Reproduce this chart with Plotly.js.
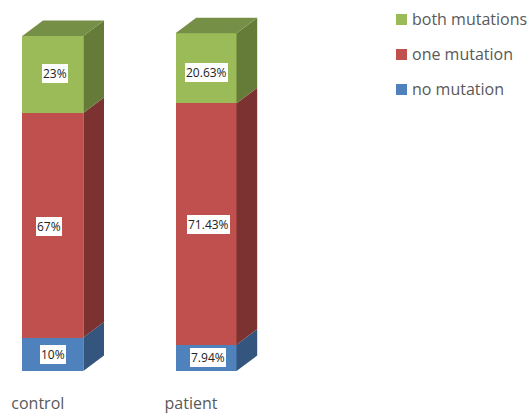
<!DOCTYPE html>
<html>
<head>
<meta charset="utf-8">
<script src="https://cdn.plot.ly/plotly-3.0.1.min.js"></script>
<style>html,body{margin:0;padding:0;background:#fff}</style>
</head>
<body>
<div id="chart" style="width:530px;height:414px"></div>
<script>
const categories = ['control', 'patient'];
const seriesNames = ['no mutation', 'one mutation', 'both mutations'];
// Segment heights as drawn in the picture (percent scale)
const noMutation = [10, 7.85];
const oneMutation = [67, 72.05];
const bothMutations = [23, 20.9];
// Data labels as printed on the bars
const noMutationLabels = ['10%', '7.94%'];
const oneMutationLabels = ['67%', '71.43%'];
const bothMutationsLabels = ['23%', '20.63%'];

const frontColors = ['#4F81BD', '#C0504D', '#9BBB59'];
const sideColors = ['#34557E', '#7B3230', '#657C39'];
const topColor = '#768F46';
const textColor = '#595959';
const font = '"Open Sans", sans-serif';

const W = 530, H = 414, marginB = 22;
const pxPerCat = 153.2, pxPerPct = 3.35;
const firstBarPx = 52.8, basePx = 371;
const barW = 61 / pxPerCat;
const depthX = 20.7 / pxPerCat, depthY = 15.5 / pxPerPct;
const tickShift = -15 / pxPerCat;
// Label nudges off the segment centres, in pixels: [series][category]
const labelDx = [[0, 1.7], [-3.8, 2], [2.2, 0]];
const labelDy = [[-0.5, 0], [-1.5, -0.5], [1, -4]];

const xs = categories.map((_, i) => i);
const allValues = [noMutation, oneMutation, bothMutations];
const allLabels = [noMutationLabels, oneMutationLabels, bothMutationsLabels];

const traces = [];
const annotations = [];
const bases = xs.map(() => 0);

allValues.forEach((vals, s) => {
  const starts = bases.slice();
  traces.push({
    type: 'bar', x: xs, y: vals, width: barW, name: seriesNames[s],
    marker: {color: frontColors[s], line: {width: 0}},
    hoverinfo: 'name+y', showlegend: false
  });
  xs.forEach((x, i) => {
    const y0 = starts[i], y1 = y0 + vals[i], r = x + barW / 2;
    traces.push({
      type: 'scatter', mode: 'lines', fill: 'toself', fillcolor: sideColors[s],
      x: [r, r + depthX, r + depthX, r, r],
      y: [y0, y0 + depthY, y1 + depthY, y1, y0],
      line: {width: 0, color: sideColors[s]}, hoverinfo: 'skip', showlegend: false
    });
    annotations.push({
      x: x, y: (y0 + y1) / 2, xref: 'x', yref: 'y', showarrow: false,
      xshift: labelDx[s][i], yshift: labelDy[s][i],
      text: allLabels[s][i], bgcolor: '#fff', borderpad: 1, borderwidth: 0,
      font: {family: font, size: 12, color: '#222'}
    });
    bases[i] = y1;
    if (s === allValues.length - 1) {
      const l = x - barW / 2;
      traces.push({
        type: 'scatter', mode: 'lines', fill: 'toself', fillcolor: topColor,
        x: [l, l + depthX, r + depthX, r, l],
        y: [y1, y1 + depthY, y1 + depthY, y1, y1],
        line: {width: 0, color: topColor}, hoverinfo: 'skip', showlegend: false
      });
    }
  });
});

// Key, top to bottom
const legendRows = [
  {s: 2, y: 19.5}, {s: 1, y: 54.5}, {s: 0, y: 89.5}
];
const shapes = legendRows.map(r => ({
  type: 'rect', xref: 'paper', yref: 'paper', line: {width: 0},
  x0: 396 / W, x1: 407 / W,
  y0: 1 - (r.y + 5.5) / (H - marginB), y1: 1 - (r.y - 5.5) / (H - marginB),
  fillcolor: frontColors[r.s]
}));
legendRows.forEach(r => annotations.push({
  xref: 'paper', yref: 'paper', x: 409.5 / W, y: 1 - (r.y - 0.5) / (H - marginB),
  xanchor: 'left', yanchor: 'middle', showarrow: false, text: seriesNames[r.s],
  font: {family: font, size: 16, color: textColor}
}));

const layout = {
  width: W, height: H,
  margin: {l: 0, r: 0, t: 0, b: marginB, pad: 0},
  paper_bgcolor: '#fff', plot_bgcolor: '#fff',
  barmode: 'stack', showlegend: false,
  xaxis: {
    range: [-firstBarPx / pxPerCat, (W - firstBarPx) / pxPerCat],
    tickmode: 'array', tickvals: xs.map(x => x + tickShift), ticktext: categories,
    ticks: '', ticklen: 0, showgrid: false, zeroline: false, showline: false,
    tickfont: {family: font, size: 16, color: textColor}, automargin: false
  },
  yaxis: {
    range: [-(H - marginB - basePx) / pxPerPct, basePx / pxPerPct],
    showgrid: false, zeroline: false, showline: false, showticklabels: false, ticks: ''
  },
  annotations, shapes
};
Plotly.newPlot('chart', traces, layout, {displayModeBar: false, responsive: false});
</script>
</body>
</html>
